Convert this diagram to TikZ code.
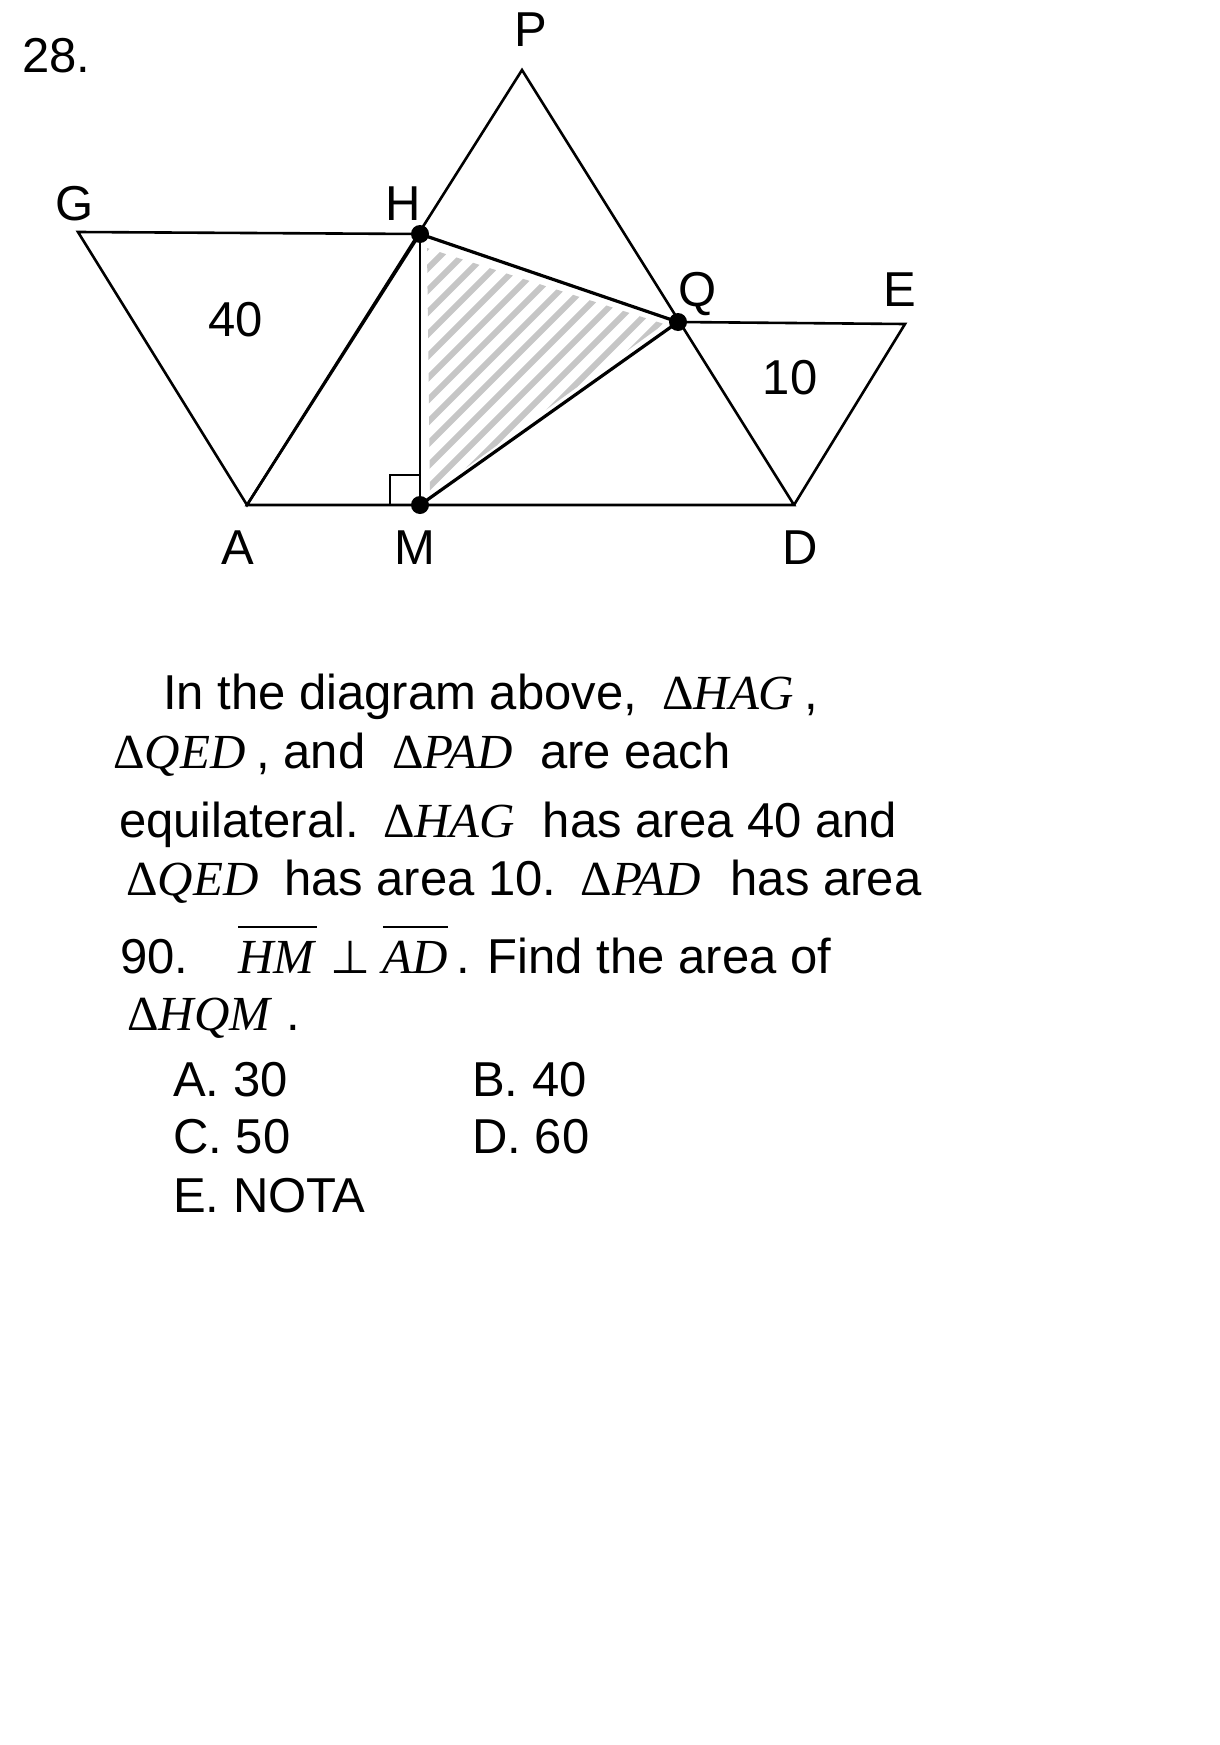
\documentclass[tikz,border=0pt]{standalone}
\usepackage{fontspec}
\setmainfont{Liberation Sans}
\newfontfamily\tnr{Liberation Serif}
\newfontfamily\dv{DejaVu Sans}
\newcommand\tri[1]{{\tnr Δ\textit{#1}}}
\newcommand\ovl[1]{\vbox{\hrule height 1.8pt\kern 13pt\hbox{#1}}}
\begin{document}
\begin{tikzpicture}[x=1pt,y=-1pt,
  edge/.style={line width=2.6pt, line join=miter},
  bold/.style={line width=3.2pt, line join=round},
  dot/.style={circle, fill=black, inner sep=0pt, minimum size=18pt},
  lbl/.style={inner sep=0pt, anchor=base, font=\fontsize{49}{58}\selectfont},
  txt/.style={inner sep=0pt, anchor=base west, font=\fontsize{49}{58}\selectfont}]
\useasboundingbox (0,0) rectangle (1220,1745);
% vertices
\coordinate (P) at (522,70);
\coordinate (G) at (78,232);
\coordinate (H) at (420,234);
\coordinate (Q) at (678,322);
\coordinate (E) at (905,324);
\coordinate (A) at (247,505);
\coordinate (M) at (420,505);
\coordinate (D) at (794,505);
% hatch
\begin{scope}
  \clip (427,248) -- (664,324) -- (430,494) -- cycle;
  \foreach \y in {230,252,...,600}
    \draw[line width=6pt, gray!45] (400,\y) -- ++(400,-400);
\end{scope}
% right angle
\draw[line width=2pt] (390,505) -- (390,475) -- (420,475);
% triangles
\draw[edge] (G) -- (H) -- (A) -- cycle;
\draw[edge] (A) -- (P) -- (D) -- cycle;
\draw[edge] (Q) -- (E) -- (D);
\draw[edge] (H) -- (M);
\draw[bold] (H) -- (Q) -- (M);
% dots
\node[dot] (h) at (H) {};
\node[dot] (q) at (Q) {};
\node[dot] (m) at (M) {};
% labels
\node[lbl] (lP) at (531,47) {P};
\node[lbl] (lG) at (75,220) {G};
\node[lbl] (lH) at (403,220) {H};
\node[lbl] (l40) at (236,336) {40};
\node[lbl] (lQ) at (698,306) {Q};
\node[lbl] (lE) at (900,306) {E};
\node[lbl] (l10) at (790,394) {10};
\node[lbl] (lA) at (238,564) {A};
\node[lbl] (lM) at (415,564) {M};
\node[lbl] (lD) at (800,564) {D};
% text
\node[txt] (num) at (22,73) {28.};
\node[txt] (t1) at (163,709) {In the diagram above,\hspace{25pt}\tri{HAG}\hspace{10pt},};
\node[txt] (t2) at (113,768) {\tri{QED}\hspace{11pt}, and \hspace{13pt}\tri{PAD}\hspace{14pt} are each};
\node[txt] (t3) at (119,837) {equilateral. \hspace{6pt}\tri{HAG}\hspace{14pt} has area 40 and};
\node[txt] (t4) at (126,895) {\tri{QED}\hspace{12pt} has area 10. \hspace{6pt}\tri{PAD}\hspace{16pt} has area};
\node[txt] (t5) at (120,973) {90.\hspace{50pt}\ovl{\tnr\textit{HM}}\hspace{14pt}{\dv\fontsize{46}{50}\selectfont ⊥}\hspace{12pt}\ovl{\tnr\textit{AD}}\hspace{8pt}. Find the area of};
\node[txt] (t6) at (127,1030) {\tri{HQM}\hspace{14pt}.};
\node[txt] (a1) at (173,1096) {A. 30};
\node[txt] (a2) at (472,1096) {B. 40};
\node[txt] (a3) at (173,1153) {C. 50};
\node[txt] (a4) at (472,1153) {D. 60};
\node[txt] (a5) at (173,1212) {E. NOTA};
\end{tikzpicture}
\end{document}
